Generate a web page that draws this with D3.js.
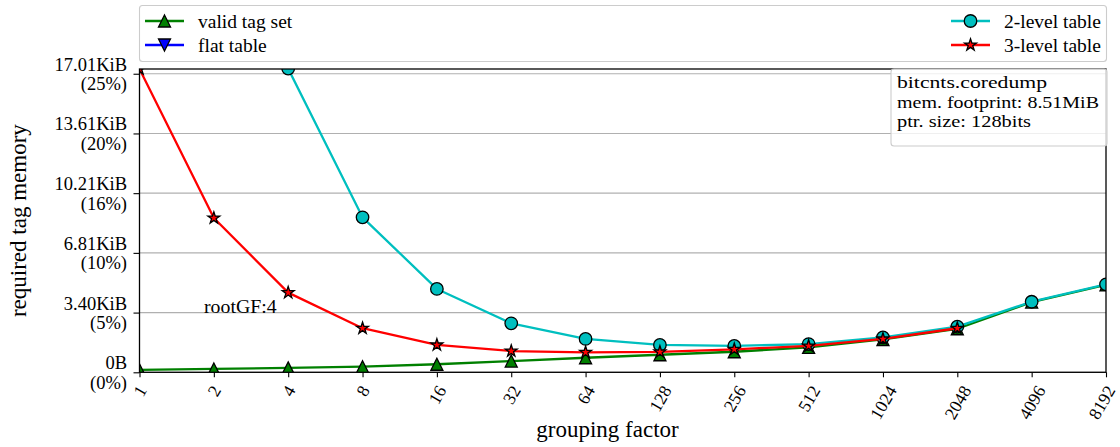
<!DOCTYPE html>
<html>
<head>
<meta charset="utf-8">
<script src="https://cdn.jsdelivr.net/npm/d3@7"></script>
<style>
  html, body { margin: 0; padding: 0; background: #ffffff; }
  svg { display: block; font-family: "Liberation Serif", "Times New Roman", serif; }
</style>
</head>
<body>
<svg id="chart" width="1120" height="447"></svg>
<script>
// ---- data (tag memory in KiB per grouping factor) ----
const groupingFactors = [1, 2, 4, 8, 16, 32, 64, 128, 256, 512, 1024, 2048, 4096, 8192];
const validTagSet     = [0.14, 0.19, 0.25, 0.32, 0.46, 0.64, 0.83, 1.00, 1.17, 1.42, 1.87, 2.48, 4.00, 4.98];
// flat table needs far more memory than the plotted range; it only appears in the legend
const flatTable       = [null, null, null, null, null, null, null, null, null, null, null, null, null, null];
const twoLevelTable   = [null, null, 17.30, 8.83, 4.75, 2.79, 1.90, 1.56, 1.50, 1.61, 1.99, 2.60, 4.02, 5.01];
const threeLevelTable = [17.28, 8.79, 4.54, 2.51, 1.56, 1.21, 1.14, 1.16, 1.31, 1.50, 1.90, 2.51, null, null];

const yTickKiB   = [0, 3.402, 6.804, 10.206, 13.608, 17.01];
const yTickSize  = ["0B", "3.40KiB", "6.81KiB", "10.21KiB", "13.61KiB", "17.01KiB"];
const yTickShare = ["(0%)", "(5%)", "(10%)", "(16%)", "(20%)", "(25%)"];
const yMaxKiB = 17.28;

const infoLines = ["bitcnts.coredump", "mem. footprint: 8.51MiB", "ptr. size: 128bits"];
const infoWidths = [150, 202, 134];
const annotation = { text: "rootGF:4", gf: 1.825, kib: 3.402 };

const series = [
  { name: "valid tag set", values: validTagSet,     color: "#008000", marker: "triangleUp" },
  { name: "flat table",    values: flatTable,       color: "#0000ff", marker: "triangleDown" },
  { name: "2-level table", values: twoLevelTable,   color: "#00bfbf", marker: "circle" },
  { name: "3-level table", values: threeLevelTable, color: "#ff0000", marker: "star" }
];

// ---- layout ----
const W = 1120;
const plot = { left: 139.5, right: 1106, top: 69, bottom: 372.3 };
const svg = d3.select("#chart");

const x = d3.scaleLog().base(2).domain([1, 8192]).range([plot.left, plot.right]);
const y = d3.scaleLinear().domain([0, yMaxKiB]).range([plot.bottom, plot.top]);

// marker shapes centred on the origin
function markerPath(type, s) {
  const h = s / 2;
  if (type === "triangleUp")   return `M0,${-h}L${h},${h}L${-h},${h}Z`;
  if (type === "triangleDown") return `M0,${h}L${h},${-h}L${-h},${-h}Z`;
  if (type === "circle")       return `M${h},0A${h},${h} 0 1,1 ${-h},0A${h},${h} 0 1,1 ${h},0Z`;
  // five-pointed star
  const R = h, r = h * 0.381966;
  let d = "";
  for (let i = 0; i < 10; i++) {
    const a = -Math.PI / 2 + i * Math.PI / 5;
    const rad = i % 2 === 0 ? R : r;
    d += (i === 0 ? "M" : "L") + (rad * Math.cos(a)).toFixed(2) + "," + (rad * Math.sin(a)).toFixed(2);
  }
  return d + "Z";
}
const markerSize = { triangleUp: 12, triangleDown: 12, circle: 12.5, star: 12.5 };

// ---- grid ----
svg.append("g")
  .selectAll("line")
  .data(yTickKiB)
  .join("line")
  .attr("x1", plot.left).attr("x2", plot.right)
  .attr("y1", d => y(d)).attr("y2", d => y(d))
  .attr("stroke", "#b0b0b0").attr("stroke-width", 1.1);

// ---- series ----
svg.append("defs").append("clipPath").attr("id", "plotClip")
  .append("rect")
  .attr("x", plot.left).attr("y", plot.top)
  .attr("width", plot.right - plot.left).attr("height", plot.bottom - plot.top);

const dataLayer = svg.append("g").attr("clip-path", "url(#plotClip)");
const line = d3.line()
  .defined(d => d.v != null)
  .x(d => x(d.gf))
  .y(d => y(d.v));

series.forEach(s => {
  const pts = groupingFactors.map((gf, i) => ({ gf, v: s.values[i] }));
  const g = dataLayer.append("g");
  g.append("path")
    .attr("d", line(pts))
    .attr("fill", "none")
    .attr("stroke", s.color)
    .attr("stroke-width", 2.3)
    .attr("stroke-linejoin", "round");
  g.selectAll("path.mk")
    .data(pts.filter(d => d.v != null))
    .join("path")
    .attr("class", "mk")
    .attr("d", markerPath(s.marker, markerSize[s.marker]))
    .attr("transform", d => `translate(${x(d.gf)},${y(d.v)})`)
    .attr("fill", s.color)
    .attr("stroke", "#000")
    .attr("stroke-width", 1.3)
    .attr("stroke-linejoin", "miter");
});

// ---- axes ----
const xAxis = d3.axisBottom(x)
  .tickValues(groupingFactors)
  .tickFormat(d3.format("d"))
  .tickSize(5)
  .tickPadding(0);
const gx = svg.append("g")
  .attr("transform", `translate(0,${plot.bottom})`)
  .call(xAxis);
gx.select(".domain").remove();
gx.selectAll(".tick line").attr("stroke", "#000").attr("stroke-width", 1.1);

// rotated tick labels: the rotated box is centred on the tick and hangs below it,
// nudged inward where it would run past the right edge of the figure
const xFont = 17.6;
gx.selectAll(".tick text")
  .attr("font-family", "Liberation Serif")
  .attr("font-size", xFont)
  .attr("fill", "#000")
  .attr("dy", null)
  .attr("y", null)
  .attr("text-anchor", "middle")
  .attr("dominant-baseline", "central")
  .each(function (d) {
    const w = this.getComputedTextLength();
    const a = Math.PI / 3;
    const H = w * Math.sin(a) + xFont * Math.cos(a);
    const boxW = w * Math.cos(a) + xFont * 1.15 * Math.sin(a);
    const cx = x(d);
    const shift = Math.min(0, (W - 1) - (cx + boxW / 2));
    const top = 10.5;
    d3.select(this).attr("transform", `translate(${shift},${top + H / 2}) rotate(-60)`);
  });

const yAxis = d3.axisLeft(y)
  .tickValues(yTickKiB)
  .tickFormat("")
  .tickSize(6);
const gy = svg.append("g")
  .attr("transform", `translate(${plot.left},0)`)
  .call(yAxis);
gy.select(".domain").remove();
gy.selectAll(".tick line").attr("stroke", "#000").attr("stroke-width", 1.1);
gy.selectAll(".tick text").remove();

const yLabels = svg.append("g")
  .attr("font-size", 18.5)
  .attr("text-anchor", "end")
  .attr("fill", "#000");
yTickKiB.forEach((v, i) => {
  const t = yLabels.append("text").attr("x", 127);
  t.append("tspan").attr("x", 127).attr("y", y(v) - 3).text(yTickSize[i]);
  t.append("tspan").attr("x", 127).attr("y", y(v) + 16.5).text(yTickShare[i]);
});

// spines
svg.append("rect")
  .attr("x", plot.left).attr("y", plot.top)
  .attr("width", plot.right - plot.left).attr("height", plot.bottom - plot.top)
  .attr("fill", "none").attr("stroke", "#000").attr("stroke-width", 1.3);

// axis titles
svg.append("text")
  .attr("x", 607.5).attr("y", 437)
  .attr("text-anchor", "middle").attr("font-size", 23)
  .text("grouping factor");
svg.append("text")
  .attr("transform", `translate(26,${(plot.top + plot.bottom) / 2}) rotate(-90)`)
  .attr("text-anchor", "middle").attr("font-size", 23)
  .text("required tag memory");

// annotation
svg.append("text")
  .attr("x", x(annotation.gf)).attr("y", y(annotation.kib))
  .attr("font-size", 19.8)
  .text(annotation.text);

// ---- legend ----
const legend = svg.append("g");
legend.append("rect")
  .attr("x", 139.5).attr("y", 5.5).attr("width", 967).attr("height", 56).attr("rx", 3)
  .attr("fill", "rgba(255,255,255,0.8)").attr("stroke", "#cccccc").attr("stroke-width", 1.1);
const legendSlots = [
  { x0: 145, x1: 184, tx: 198, y: 21 },
  { x0: 145, x1: 184, tx: 198, y: 45 },
  { x0: 951, x1: 990, tx: 1004, y: 21 },
  { x0: 951, x1: 990, tx: 1004, y: 45 }
];
series.forEach((s, i) => {
  const p = legendSlots[i];
  legend.append("line")
    .attr("x1", p.x0).attr("x2", p.x1).attr("y1", p.y).attr("y2", p.y)
    .attr("stroke", s.color).attr("stroke-width", 2.3);
  legend.append("path")
    .attr("d", markerPath(s.marker, markerSize[s.marker]))
    .attr("transform", `translate(${(p.x0 + p.x1) / 2},${p.y})`)
    .attr("fill", s.color).attr("stroke", "#000").attr("stroke-width", 1.3);
  legend.append("text")
    .attr("x", p.tx).attr("y", p.y + 6.5)
    .attr("font-size", 19.5)
    .text(s.name);
});

// ---- info box ----
const info = svg.append("g");
info.append("rect")
  .attr("x", 891).attr("y", 69).attr("width", 216).attr("height", 77).attr("rx", 3)
  .attr("fill", "rgba(255,255,255,0.8)").attr("stroke", "#cccccc").attr("stroke-width", 1.1);
infoLines.forEach((t, i) => {
  info.append("text")
    .attr("x", 897).attr("y", 88 + i * 19.5)
    .attr("font-size", 17.5)
    .attr("textLength", infoWidths[i])
    .attr("lengthAdjust", "spacingAndGlyphs")
    .text(t);
});
</script>
</body>
</html>
